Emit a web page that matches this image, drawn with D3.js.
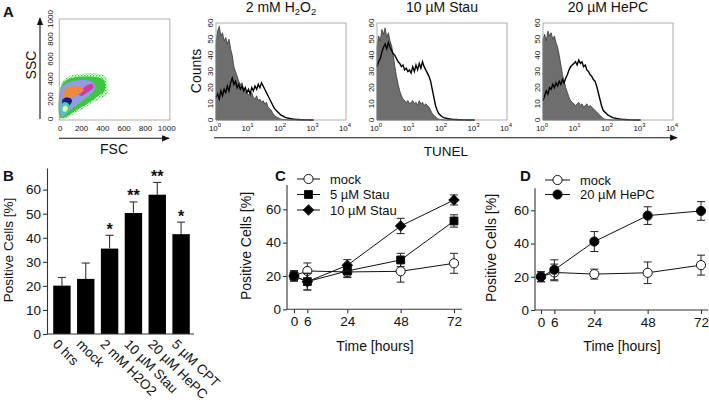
<!DOCTYPE html>
<html><head><meta charset="utf-8">
<script src="https://cdn.jsdelivr.net/npm/d3@7"></script>
<style>
body{margin:0;background:#fff}
svg{display:block}
text{font-family:"Liberation Sans",Arial,Helvetica,sans-serif;fill:#111}
</style>
</head><body>
<svg id="c" width="709" height="405"></svg>
<script>
// ---------------- DATA ----------------
// Panel A: FSC/SSC density regions (outline vertices in FSC,SSC channel units)
const scatterTicks = [0, 200, 400, 600, 800, 1000];
const densityOuter = [[0,0],[0,290],[16,370],[54,410],[110,440],[185,450],[280,460],[373,450],[430,420],[440,340],[440,240],[373,200],[298,160],[214,100],[110,40],[35,0]];
const densityGreen = [[0,20],[0,300],[40,375],[120,415],[250,425],[360,415],[415,380],[418,285],[350,225],[250,150],[130,75],[45,15]];
const densityBlue = [[5,40],[5,300],[50,350],[130,380],[230,390],[300,370],[330,320],[300,260],[220,190],[130,120],[60,60],[25,20]];
const densityMagenta = [[170,250],[240,330],[300,350],[310,310],[260,270],[200,230]];
const densityOrange = [[30,200],[40,290],[100,320],[180,320],[220,290],[160,240],[90,200]];
const densityNavy = [[20,140],[25,200],[70,215],[110,190],[90,140],[50,120]];
const densityCyan = [[10,50],[8,140],[40,170],[80,150],[80,90],[40,45]];
const densityYellow = [[25,80],[25,120],[50,135],[70,110],[55,75]];

// Panel A: TUNEL histograms, 20 bins per decade from 10^0 to 10^3
const histTitles = ["2 mM H2O2", "10 µM Stau", "20 µM HePC"];
const histExpTicks = [0, 1, 2, 3, 4];
const histCountTicks = [0, 10, 20, 30, 40, 50, 60];
const h2o2Control = [48,55,58,52,54,49,51,47,50,44, 40,33,30,27,24,22,23,19,18,17, 16,15,17,14,13,15,12,13,11,12, 10,11,8,7,6,4,3,2,1.5,1, 0.5,0.4,0.3,0.2,0.1,0,0,0,0,0, 0,0,0,0,0,0,0,0,0,0,0];
const h2o2Treated = [14,16,13,18,15,19,17,21,18,23, 26,22,24,20,22,19,21,18,20,17, 19,16,20,18,21,19,22,20,23,21, 19,17,15,13,11,9,7,6,5,4, 3,2.5,2,1.5,1.2,1,0.8,0.6,0.5,0.4, 0.3,0.3,0.2,0.2,0.2,0.1,0.1,0.1,0,0,0];
const stauControl = [45,52,49,56,53,57,51,54,49,46, 40,33,27,22,18,15,13,12,11,12, 10,11,12,10,11,9,12,10,11,9, 10,9,8,6,4,3,2,1,0.5,0.3, 0.2,0.1,0,0,0,0,0,0,0,0, 0,0,0,0,0,0,0,0,0,0,0];
const stauTreated = [33,36,38,42,45,47,44,48,45,43, 41,40,38,36,35,33,34,31,32,30, 31,29,33,30,34,31,35,32,36,33, 31,29,27,24,19,14,9,6,4,3, 2,1.5,1.2,1,0.8,0.6,0.5,0.4,0.3,0.3, 0.2,0.2,0.1,0.1,0.1,0,0,0,0,0,0];
const hepcControl = [50,53,49,55,52,54,50,52,48,45, 40,34,28,24,20,17,14,12,11,10, 9,10,11,9,10,8,9,10,8,9, 8,7,6,5,4,3,2,1,0.5,0.3, 0.2,0.1,0,0,0,0,0,0,0,0, 0,0,0,0,0,0,0,0,0,0,0];
const hepcTreated = [12,15,18,16,20,19,22,20,23,21, 24,22,25,23,26,28,31,33,34,35, 36,34,37,35,36,33,34,31,30,28, 27,25,24,21,17,13,9,6,5,4, 3,2.5,2,1.5,1.2,1,0.8,0.6,0.5,0.4, 0.3,0.3,0.2,0.2,0.1,0.1,0,0,0,0,0];

// Panel B
const barCategories = ["0 hrs", "mock", "2 mM H2O2", "10 µM Stau", "20 µM HePC", "5 µM CPT"];
const barValues = [20.1, 22.9, 35.5, 50.3, 57.9, 41.5];
const barErrors = [3.4, 6.6, 5.5, 4.6, 5.1, 5.0];
const barStars = ["", "", "*", "**", "**", "*"];
const barTicks = [0, 10, 20, 30, 40, 50, 60];

// Panels C and D
const timePoints = [0, 6, 24, 48, 72];
const lineTicks = [0, 20, 40, 60];
const mockC = [20, 23, 22.4, 22.8, 27.6];
const mockCErr = [3, 4.8, 3, 6.5, 6];
const stau5 = [20, 16.6, 23, 29.6, 53];
const stau5Err = [3, 5, 4, 4, 3.7];
const stau10 = [20, 16.6, 26.4, 50, 65.6];
const stau10Err = [3, 5, 3.4, 4.6, 3];
const mockD = [20, 22.6, 21.6, 22.4, 27];
const mockDErr = [3, 5, 3, 6.5, 6];
const hepc20 = [20, 24.2, 41.2, 56.8, 59.6];
const hepc20Err = [3, 6, 6, 5.3, 5.6];

// ---------------- DRAWING ----------------
const svg = d3.select("#c");
const AX = "#333";
const TITLE = 14;

function panelLabel(t, x, y) {
  svg.append("text").attr("x", x).attr("y", y).attr("font-weight", "bold")
     .attr("font-size", 15).text(t);
}
svg.append("defs").html(
  '<marker id="arr" viewBox="0 0 10 10" refX="9" refY="5" markerWidth="7" markerHeight="7" orient="auto">' +
  '<path d="M0,1 L10,5 L0,9 Z" fill="#111"/></marker>' +
  '<pattern id="speck" width="3" height="3" patternUnits="userSpaceOnUse">' +
  '<rect x="0" y="0" width="1.4" height="1.4" fill="#3ec43e"/><rect x="1.6" y="1.6" width="1.2" height="1.2" fill="#52d052"/></pattern>'
);

// ---- Panel A scatter ----
panelLabel("A", 3, 17);
const sx = d3.scaleLinear().domain([0, 1000]).range([60.3, 166.7]);
const sy = d3.scaleLinear().domain([0, 1000]).range([119, 19]);
const sg = svg.append("g");
sg.append("rect").attr("x", sx(-10)).attr("y", sy(1000)).attr("width", sx(1030) - sx(-10))
  .attr("height", sy(-10) - sy(1000)).attr("fill", "none").attr("stroke", "#999").attr("stroke-width", 0.8);
const poly = d3.line().x(d => sx(d[0])).y(d => sy(d[1])).curve(d3.curveCatmullRomClosed.alpha(0.5));
[[densityOuter, "url(#speck)"], [densityGreen, "#3cc83c"], [densityBlue, "#8f9de6"],
 [densityMagenta, "#d23aa8"], [densityOrange, "#f08a3a"], [densityNavy, "#1c1c80"],
 [densityCyan, "#48c8c0"], [densityYellow, "#f0f0a0"]].forEach(([pts, c]) => {
  sg.append("path").attr("d", poly(pts)).attr("fill", c).attr("stroke", "none");
});
scatterTicks.forEach(t => {
  sg.append("text").attr("x", sx(t)).attr("y", 130.5).attr("text-anchor", "middle")
    .attr("font-size", 8).attr("fill", "#444").text(t);
  sg.append("text").attr("transform", `translate(53,${sy(t)}) rotate(-90)`).attr("text-anchor", "middle")
    .attr("font-size", 8).attr("fill", "#444").text(t);
});
svg.append("line").attr("x1", 40).attr("x2", 40).attr("y1", 119).attr("y2", 18)
  .attr("stroke", "#111").attr("stroke-width", 1.1).attr("marker-end", "url(#arr)");
svg.append("line").attr("x1", 59).attr("x2", 169).attr("y1", 138.3).attr("y2", 138.3)
  .attr("stroke", "#111").attr("stroke-width", 1.1).attr("marker-end", "url(#arr)");
svg.append("text").attr("transform", "translate(36,65) rotate(-90)").attr("text-anchor", "middle")
  .attr("font-size", TITLE).text("SSC");
svg.append("text").attr("x", 114).attr("y", 154).attr("text-anchor", "middle").attr("font-size", TITLE).text("FSC");

// ---- Panel A histograms ----
const histStarts = [216, 377, 543];
const histData = [[h2o2Control, h2o2Treated], [stauControl, stauTreated], [hepcControl, hepcTreated]];
const binLog = h2o2Control.map((_, i) => i / 20);
histData.forEach(([ctrl, treat], k) => {
  const x0 = histStarts[k];
  const hx = d3.scaleLog().domain([1, 1e4]).range([x0, x0 + 130]);
  const hy = d3.scaleLinear().domain([0, 60]).range([120, 23]);
  const g = svg.append("g");
  const area = d3.area().x((d, i) => hx(Math.pow(10, binLog[i]))).y0(hy(0)).y1(d => hy(d));
  const line = d3.line().x((d, i) => hx(Math.pow(10, binLog[i]))).y(d => hy(d));
  g.append("path").attr("d", area(ctrl)).attr("fill", "#6e6e6e").attr("stroke", "#3a3a3a").attr("stroke-width", 0.8);
  g.append("path").attr("d", line(treat)).attr("fill", "none").attr("stroke", "#000").attr("stroke-width", 1.4);
  g.append("rect").attr("x", x0).attr("y", 23).attr("width", 130).attr("height", 97)
    .attr("fill", "none").attr("stroke", "#999").attr("stroke-width", 0.8);
  histCountTicks.forEach(t => {
    g.append("text").attr("transform", `translate(${x0 - 3},${hy(t)}) rotate(-90)`).attr("text-anchor", "middle")
      .attr("font-size", 8).attr("fill", "#444").text(t);
  });
  histExpTicks.forEach(e => {
    const tx = g.append("text").attr("x", hx(Math.pow(10, e)) - 1).attr("y", 130.5).attr("text-anchor", "middle")
      .attr("font-size", 8).attr("fill", "#444");
    tx.append("tspan").text("10");
    tx.append("tspan").attr("dy", -4).attr("font-size", 6).text(e);
  });
  const title = histTitles[k];
  const tt = g.append("text").attr("x", x0 + 65).attr("y", 12).attr("text-anchor", "middle").attr("font-size", TITLE);
  if (title.indexOf("H2O2") >= 0) {
    tt.append("tspan").text("2 mM H");
    tt.append("tspan").attr("dy", 3).attr("font-size", 9.5).text("2");
    tt.append("tspan").attr("dy", -3).text("O");
    tt.append("tspan").attr("dy", 3).attr("font-size", 9.5).text("2");
  } else {
    tt.text(title);
  }
});
svg.append("text").attr("transform", "translate(201,71) rotate(-90)").attr("text-anchor", "middle")
  .attr("font-size", TITLE).text("Counts");
svg.append("line").attr("x1", 214).attr("x2", 677).attr("y1", 137.7).attr("y2", 137.7)
  .attr("stroke", "#111").attr("stroke-width", 1.1).attr("marker-end", "url(#arr)");
svg.append("text").attr("x", 446).attr("y", 156).attr("text-anchor", "middle").attr("font-size", 13.5).text("TUNEL");

// ---- Panel B ----
panelLabel("B", 3, 181);
const bx = d3.scaleBand().domain(barCategories).range([50, 193]).paddingInner(0.27).paddingOuter(0.135);
const by = d3.scaleLinear().domain([0, 69]).range([334, 168]);
const bg = svg.append("g");
barCategories.forEach((c, i) => {
  const cx = bx(c) + bx.bandwidth() / 2;
  const top = by(barValues[i] + barErrors[i]);
  bg.append("line").attr("x1", cx).attr("x2", cx).attr("y1", by(barValues[i])).attr("y2", top)
    .attr("stroke", "#333").attr("stroke-width", 1.1);
  bg.append("line").attr("x1", cx - 4).attr("x2", cx + 4).attr("y1", top).attr("y2", top)
    .attr("stroke", "#333").attr("stroke-width", 1.1);
  bg.append("rect").attr("x", bx(c)).attr("y", by(barValues[i])).attr("width", bx.bandwidth())
    .attr("height", by(0) - by(barValues[i])).attr("fill", "#000");
  if (barStars[i]) {
    bg.append("text").attr("x", cx).attr("y", top - 0.5).attr("text-anchor", "middle")
      .attr("font-size", 16).attr("font-weight", "bold").text(barStars[i]);
  }
  bg.append("text").attr("transform", `translate(${cx - 10},${345}) rotate(45)`)
    .attr("font-size", 13.5).text(c);
});
const byAxis = bg.append("g").attr("transform", "translate(47,0)")
  .call(d3.axisLeft(by).tickValues(barTicks).tickSize(4).tickPadding(2).tickSizeOuter(0));
byAxis.selectAll("text").attr("font-size", 13.5).attr("fill", "#111").style("font-family", '"Liberation Sans",Arial,sans-serif');
byAxis.selectAll("line,path").attr("stroke", AX).attr("stroke-width", 1.1);
bg.append("line").attr("x1", 47).attr("x2", 194).attr("y1", 334).attr("y2", 334).attr("stroke", AX).attr("stroke-width", 1.1);
svg.append("text").attr("transform", "translate(12.5,250) rotate(-90)").attr("text-anchor", "middle")
  .attr("font-size", 13.5).text("Positive Cells [%]");

// ---- line panels helper ----
function symbolPath(type) {
  if (type === "circle") return d3.symbol(d3.symbolCircle, 66)();
  if (type === "square") return d3.symbol(d3.symbolSquare, 62)();
  return d3.symbol(d3.symbolSquare, 52)();
}
function drawSeries(g, x, y, vals, errs, type, fill) {
  g.append("path").attr("d", d3.line().x((d, i) => x(timePoints[i])).y(d => y(d))(vals))
    .attr("fill", "none").attr("stroke", "#111").attr("stroke-width", 1);
  vals.forEach((v, i) => {
    const cx = x(timePoints[i]);
    const t = y(v + errs[i]), b = y(v - errs[i]);
    g.append("line").attr("x1", cx).attr("x2", cx).attr("y1", t).attr("y2", b).attr("stroke", "#222").attr("stroke-width", 1);
    g.append("line").attr("x1", cx - 4).attr("x2", cx + 4).attr("y1", t).attr("y2", t).attr("stroke", "#222").attr("stroke-width", 1);
    g.append("line").attr("x1", cx - 4).attr("x2", cx + 4).attr("y1", b).attr("y2", b).attr("stroke", "#222").attr("stroke-width", 1);
  });
  vals.forEach((v, i) => {
    g.append("path").attr("d", symbolPath(type))
      .attr("transform", `translate(${x(timePoints[i])},${y(v)})` + (type === "diamond" ? " rotate(45)" : ""))
      .attr("fill", fill).attr("stroke", "#111").attr("stroke-width", 1);
  });
}
function legendItem(g, x1, x2, y, type, fill, label) {
  g.append("line").attr("x1", x1).attr("x2", x2).attr("y1", y).attr("y2", y).attr("stroke", "#111").attr("stroke-width", 1);
  g.append("path").attr("d", symbolPath(type))
    .attr("transform", `translate(${(x1 + x2) / 2},${y})` + (type === "diamond" ? " rotate(45)" : ""))
    .attr("fill", fill).attr("stroke", "#111").attr("stroke-width", 1);
  g.append("text").attr("x", x2 + 10).attr("y", y + 4.5).attr("font-size", 13).text(label);
}
function axes(g, x, y, xAxis0, xAxis1, yAxisX, yTop, y0) {
  const ya = g.append("g").attr("transform", `translate(${yAxisX},0)`)
    .call(d3.axisLeft(y).tickValues(lineTicks).tickSize(4).tickPadding(2).tickSizeOuter(0));
  ya.select("path").remove();
  ya.selectAll("text").attr("font-size", 13.5).attr("fill", "#111").style("font-family", '"Liberation Sans",Arial,sans-serif');
  ya.selectAll("line").attr("stroke", AX).attr("stroke-width", 1.1);
  g.append("line").attr("x1", yAxisX).attr("x2", yAxisX).attr("y1", yTop).attr("y2", y0).attr("stroke", AX).attr("stroke-width", 1.1);
  const xa = g.append("g").attr("transform", `translate(0,${y0})`)
    .call(d3.axisBottom(x).tickValues(timePoints).tickSize(4).tickPadding(3).tickSizeOuter(0));
  xa.select("path").remove();
  xa.selectAll("text").attr("font-size", 13.5).attr("fill", "#111").style("font-family", '"Liberation Sans",Arial,sans-serif');
  xa.selectAll("line").attr("stroke", AX).attr("stroke-width", 1.1);
  g.append("line").attr("x1", xAxis0).attr("x2", xAxis1).attr("y1", y0).attr("y2", y0).attr("stroke", AX).attr("stroke-width", 1.1);
}

// ---- Panel C ----
panelLabel("C", 275, 181);
const cx = d3.scaleLinear().domain([0, 72]).range([294, 454]);
const cy = d3.scaleLinear().domain([0, 75]).range([309.3, 184.3]);
const cg = svg.append("g");
axes(cg, cx, cy, 287, 462, 287, 185, 309.3);
drawSeries(cg, cx, cy, mockC, mockCErr, "circle", "#fff");
drawSeries(cg, cx, cy, stau5, stau5Err, "square", "#000");
drawSeries(cg, cx, cy, stau10, stau10Err, "diamond", "#000");
legendItem(cg, 297, 320, 179, "circle", "#fff", "mock");
legendItem(cg, 297, 320, 194.5, "square", "#000", "5 µM Stau");
legendItem(cg, 297, 320, 210, "diamond", "#000", "10 µM Stau");
svg.append("text").attr("transform", "translate(251,246) rotate(-90)").attr("text-anchor", "middle")
  .attr("font-size", TITLE).text("Positive Cells [%]");
svg.append("text").attr("x", 375).attr("y", 351).attr("text-anchor", "middle").attr("font-size", TITLE).text("Time [hours]");

// ---- Panel D ----
panelLabel("D", 520, 181);
const dx = d3.scaleLinear().domain([0, 72]).range([541, 701]);
const dy = d3.scaleLinear().domain([0, 73]).range([310, 188.7]);
const dg = svg.append("g");
axes(dg, dx, dy, 535, 708, 535, 188.3, 310);
drawSeries(dg, dx, dy, mockD, mockDErr, "circle", "#fff");
drawSeries(dg, dx, dy, hepc20, hepc20Err, "circle", "#000");
legendItem(dg, 545, 570, 180, "circle", "#fff", "mock");
legendItem(dg, 545, 570, 194.5, "circle", "#000", "20 µM HePC");
svg.append("text").attr("transform", "translate(496,248) rotate(-90)").attr("text-anchor", "middle")
  .attr("font-size", TITLE).text("Positive Cells [%]");
svg.append("text").attr("x", 622).attr("y", 351).attr("text-anchor", "middle").attr("font-size", TITLE).text("Time [hours]");
</script>
</body></html>
